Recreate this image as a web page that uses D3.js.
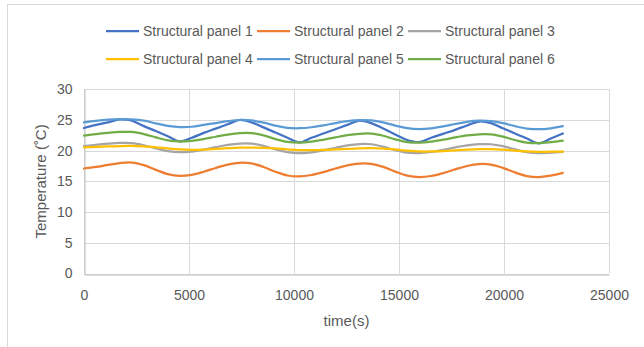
<!DOCTYPE html>
<html>
<head>
<meta charset="utf-8">
<script src="https://cdn.jsdelivr.net/npm/d3@7/dist/d3.min.js"></script>
<style>
  html, body { margin: 0; padding: 0; background: #ffffff; }
  svg { display: block; }
  text { font-family: "Liberation Sans", Arial, sans-serif; fill: #595959; }
</style>
</head>
<body>
<script>
// Sampling times (s)
const times = [0, 570, 1140, 1710, 2280, 2850, 3420, 3990, 4560, 5130, 5700, 6270, 6840, 7410, 7980,
  8550, 9120, 9690, 10260, 10830, 11400, 11970, 12540, 13110, 13680, 14250, 14820, 15390, 15960,
  16530, 17100, 17670, 18240, 18810, 19380, 19950, 20520, 21090, 21660, 22230, 22800];

// Temperatures (°C) per structural panel
const panel1 = [23.7, 24.2, 24.6, 25.1, 24.9, 24.0, 23.2, 22.35, 21.5, 22.1, 22.9, 23.6, 24.3, 25.0, 24.6,
  23.8, 22.95, 22.1, 21.35, 22.1, 22.8, 23.5, 24.2, 24.9, 24.5, 23.6, 22.65, 21.75, 21.4,
  22.1, 22.75, 23.4, 24.1, 24.75, 24.5, 23.65, 22.8, 22.0, 21.2, 22.0, 22.8];
const panel2 = [17.1, 17.35, 17.68, 17.98, 18.07, 17.64, 16.88, 16.18, 15.9, 16.08, 16.57, 17.19, 17.74, 18.03, 17.92,
  17.35, 16.57, 15.96, 15.81, 16.04, 16.51, 17.1, 17.62, 17.91, 17.87, 17.36, 16.59, 15.94, 15.7,
  15.88, 16.35, 16.95, 17.51, 17.82, 17.74, 17.2, 16.46, 15.87, 15.7, 15.95, 16.4];
const panel3 = [20.75, 20.95, 21.15, 21.28, 21.24, 20.89, 20.38, 19.93, 19.75, 19.86, 20.17, 20.57, 20.95, 21.17, 21.15,
  20.79, 20.23, 19.76, 19.6, 19.74, 20.06, 20.47, 20.85, 21.07, 21.05, 20.65, 20.08, 19.67, 19.62,
  19.81, 20.14, 20.53, 20.88, 21.07, 21.05, 20.73, 20.22, 19.77, 19.6, 19.68, 19.8];
const panel4 = [20.55, 20.62, 20.7, 20.76, 20.78, 20.7, 20.55, 20.37, 20.22, 20.15, 20.18, 20.28, 20.4, 20.5, 20.52,
  20.48, 20.37, 20.22, 20.1, 20.08, 20.12, 20.2, 20.3, 20.38, 20.4, 20.35, 20.2, 20.0, 19.87,
  19.87, 19.95, 20.07, 20.18, 20.25, 20.26, 20.18, 20.02, 19.88, 19.82, 19.83, 19.85];
const panel5 = [24.6, 24.85, 25.05, 25.15, 25.1, 24.9, 24.45, 24.05, 23.85, 23.9, 24.2, 24.5, 24.8, 25.0, 24.92,
  24.56, 24.08, 23.72, 23.66, 23.82, 24.13, 24.49, 24.8, 24.98, 24.95, 24.6, 24.09, 23.66, 23.5,
  23.63, 23.95, 24.35, 24.7, 24.89, 24.82, 24.48, 23.99, 23.61, 23.5, 23.65, 24.0];
const panel6 = [22.45, 22.7, 22.9, 23.05, 23.05, 22.7, 22.16, 21.68, 21.5, 21.61, 21.89, 22.27, 22.63, 22.86, 22.86,
  22.49, 21.89, 21.42, 21.3, 21.46, 21.78, 22.17, 22.52, 22.75, 22.78, 22.43, 21.85, 21.39, 21.3,
  21.48, 21.79, 22.16, 22.48, 22.67, 22.65, 22.29, 21.74, 21.3, 21.22, 21.4, 21.65];

const seriesNames = ["Structural panel 1", "Structural panel 2", "Structural panel 3",
  "Structural panel 4", "Structural panel 5", "Structural panel 6"];
const seriesValues = [panel1, panel2, panel3, panel4, panel5, panel6];
const seriesColors = ["#4472C4", "#ED7D31", "#A5A5A5", "#FFC000", "#5B9BD5", "#70AD47"];

const xTicks = [0, 5000, 10000, 15000, 20000, 25000];
const yTicks = [0, 5, 10, 15, 20, 25, 30];

const W = 644, H = 347;
const svg = d3.select("body").append("svg").attr("width", W).attr("height", H);

// Chart frame
svg.append("rect")
  .attr("x", 7.5).attr("y", 4.5)
  .attr("width", W + 10).attr("height", H + 10)
  .attr("fill", "#ffffff").attr("stroke", "#D9D9D9").attr("stroke-width", 1);

const x = d3.scaleLinear().domain([0, 25000]).range([84, 609]);
const y = d3.scaleLinear().domain([0, 30]).range([273.5, 89.3]);
const crisp = v => Math.round(v) + 0.5;

// Gridlines
const grid = svg.append("g");
grid.selectAll("line.h").data(yTicks).join("line")
  .attr("x1", x(0)).attr("x2", x(25000))
  .attr("y1", d => crisp(y(d))).attr("y2", d => crisp(y(d)))
  .attr("stroke", "#D9D9D9").attr("stroke-width", 1);
grid.selectAll("line.v").data(xTicks).join("line")
  .attr("x1", d => crisp(x(d))).attr("x2", d => crisp(x(d)))
  .attr("y1", y(0)).attr("y2", y(30))
  .attr("stroke", "#D9D9D9").attr("stroke-width", 1);

// Axes (labels only, Excel-style)
const yAxis = d3.axisLeft(y).tickValues(yTicks).tickSize(0).tickPadding(12).tickFormat(d3.format("d"));
const gy = svg.append("g").attr("transform", `translate(${crisp(x(0))},0)`).call(yAxis);
gy.select(".domain").attr("stroke", "#BFBFBF");
gy.selectAll("text").attr("font-size", 14).style("font-family", "'Liberation Sans', Arial, sans-serif").attr("fill", "#595959");

const xAxis = d3.axisBottom(x).tickValues(xTicks).tickSize(0).tickPadding(16).tickFormat(d3.format("d"));
const gx = svg.append("g").attr("transform", `translate(0,${crisp(y(0))})`).call(xAxis);
gx.select(".domain").attr("stroke", "#BFBFBF");
gx.selectAll("text").attr("font-size", 14).style("font-family", "'Liberation Sans', Arial, sans-serif").attr("fill", "#595959");

// Axis titles
svg.append("text")
  .attr("transform", `translate(41,${(y(0) + y(30)) / 2}) rotate(-90)`)
  .attr("text-anchor", "middle").attr("dy", "0.35em")
  .attr("font-size", 15)
  .text("Temperature (˚C)");
svg.append("text")
  .attr("x", (x(0) + x(25000)) / 2).attr("y", 321)
  .attr("text-anchor", "middle").attr("dy", "0.35em")
  .attr("font-size", 15)
  .text("time(s)");

// Series lines
const line = d3.line()
  .x((d, i) => x(times[i]))
  .y(d => y(d))
  .curve(d3.curveCatmullRom.alpha(0.5));

svg.append("g").selectAll("path").data(seriesValues).join("path")
  .attr("d", d => line(d))
  .attr("fill", "none")
  .attr("stroke", (d, i) => seriesColors[i])
  .attr("stroke-width", 2.25)
  .attr("stroke-linejoin", "round")
  .attr("stroke-linecap", "round");

// Legend: two rows of three
const legend = svg.append("g");
const items = legend.selectAll("g").data(seriesNames).join("g")
  .attr("transform", (d, i) => `translate(${106 + (i % 3) * 151},${i < 3 ? 31 : 59})`);
items.append("line")
  .attr("x1", 0).attr("x2", 33).attr("y1", 0).attr("y2", 0)
  .attr("stroke", (d, i) => seriesColors[i]).attr("stroke-width", 2.25);
items.append("text")
  .attr("x", 37).attr("dy", "0.35em")
  .attr("font-size", 14)
  .text(d => d);
</script>
</body>
</html>
